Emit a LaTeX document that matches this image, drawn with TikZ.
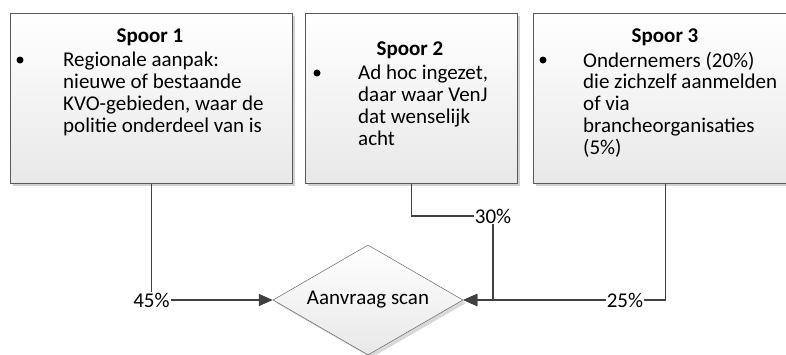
\documentclass[tikz,border=0pt]{standalone}
\usepackage{fontspec}
\setmainfont{Carlito}
\usetikzlibrary{positioning,shapes.geometric,arrows.meta,shadows}

\begin{document}
\begin{tikzpicture}[x=1pt, y=-1pt,
    spoorbox/.style={draw=black!65, line width=0.8pt, top color=white, bottom color=black!9,
      anchor=north west, minimum height=170pt, inner sep=0pt,
      drop shadow={shadow xshift=3pt, shadow yshift=-3pt, fill=black!18, opacity=1}},
    title/.style={font=\fontsize{21}{21.7}\selectfont\bfseries, inner sep=0pt, anchor=base},
    body/.style={font=\fontsize{21}{21.7}\selectfont, align=left, inner sep=0pt, anchor=base west},
    bullet/.style={circle, fill=black, inner sep=0pt, minimum size=7pt},
    decision/.style={diamond, aspect=1.727, draw=black!60, line width=0.5pt, top color=white, bottom color=black!9,
      minimum width=190pt, minimum height=110pt, inner sep=0pt, font=\fontsize{21}{21.7}\selectfont,
      drop shadow={shadow xshift=3pt, shadow yshift=-3pt, fill=black!15, opacity=1}},
    flow/.style={line width=1.6pt, draw=black!75, -{Triangle[length=14pt,width=12pt]}},
    pct/.style={fill=white, inner sep=1pt, font=\fontsize{21}{21.7}\selectfont}
  ]
  \clip (0,0) rectangle (786,354);

  \node[spoorbox, minimum width=282pt] (box1) at (10,13)  {};
  \node[spoorbox, minimum width=212pt] (box2) at (305,13) {};
  \node[spoorbox, minimum width=264pt] (box3) at (533,13) {};

  % base of a multi-line node = baseline of its last line
  \node[title] (t1) at (150,42)  {Spoor 1};
  \node[bullet] (b1) at (20,60) {};
  \node[body] (x1) at (63,132) {Regionale aanpak:\\nieuwe of bestaande\\KVO-gebieden, waar de\\politie onderdeel van is};

  \node[title] (t2) at (410,55)  {Spoor 2};
  \node[bullet] (b2) at (317,73) {};
  \node[body] (x2) at (358,145) {Ad hoc ingezet,\\daar waar VenJ\\dat wenselijk\\acht};

  \node[title] (t3) at (665,42)  {Spoor 3};
  \node[bullet] (b3) at (543,60) {};
  \node[body] (x3) at (583,154) {Ondernemers (20\%)\\die zichzelf aanmelden\\of via\\brancheorganisaties\\(5\%)};

  \node[decision] (scan) at (368,300) {Aanvraag scan};

  \coordinate (k30) at (493,216);
  \draw[flow] (box1.south) |- node[pct, pos=0.5] {45\%} (scan.west);
  \draw[flow] (box2.south) |- (k30) -- (k30 |- scan.east) -- (scan.east);
  \node[pct] (p30) at (k30) {30\%};
  \draw[flow] (box3.south) |- node[pct, pos=0.6] {25\%} (scan.east);
\end{tikzpicture}
\end{document}
